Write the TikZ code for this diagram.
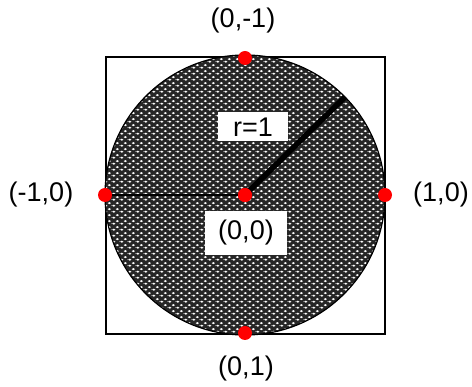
\documentclass[tikz,border=0pt]{standalone}
\usepackage{fontspec}
\setmainfont{Liberation Sans}
\usetikzlibrary{patterns.meta}
\tikzdeclarepattern{
  name=celldots, type=uncolored,
  bottom left={(0pt,0pt)}, top right={(8pt,6pt)}, tile size={(8pt,6pt)},
  code={
    \fill (2pt,1.5pt) ellipse (1.8pt and 1.2pt);
    \fill (6pt,4.5pt) ellipse (1.8pt and 1.2pt);
    \fill (-2pt,4.5pt) ellipse (1.8pt and 1.2pt);
    \fill (10pt,1.5pt) ellipse (1.8pt and 1.2pt);
  }
}
\tikzset{
  lbl/.style={font=\fontsize{27}{31}\selectfont, inner sep=0pt},
  boxlbl/.style={lbl, fill=white, minimum width=70pt, minimum height=29pt},
  reddot/.style={circle, fill=red, inner sep=0pt, minimum size=14pt}
}
\begin{document}
\begin{tikzpicture}[x=1pt,y=-1pt]
\useasboundingbox (0,0) rectangle (472,387);
\draw[line width=1.2pt] (106,57) rectangle (385,334);
\fill[black!85] (245,195) circle (140);
\fill[pattern=celldots, pattern color=white!75] (245,195) circle (140);
\draw[line width=1.2pt] (245,195) circle (140);
\node[reddot] (c) at (245,195) {};
\node[reddot] (l) at (105,195) {};
\node[reddot] (r) at (385,195) {};
\node[reddot] (t) at (245,58) {};
\node[reddot] (b) at (245,333) {};
\coordinate (e) at (345,97);
\draw[line width=1.5pt] (l) -- (c);
\draw[line width=5.5pt] (c.center) -- (e);
\node[reddot] at (c) {};
\node[boxlbl, minimum width=70pt] (rl) at (253,127) {r=1};
\node[boxlbl, minimum width=82pt, minimum height=44pt] (ol) at (246,233) {(0,0)};
\node[lbl] (tl) at (243,21) {(0,-1)};
\node[lbl] (ll) at (41,195) {(-1,0)};
\node[lbl] (rtl) at (441,195) {(1,0)};
\node[lbl] (bl) at (246,369) {(0,1)};
\end{tikzpicture}
\end{document}
